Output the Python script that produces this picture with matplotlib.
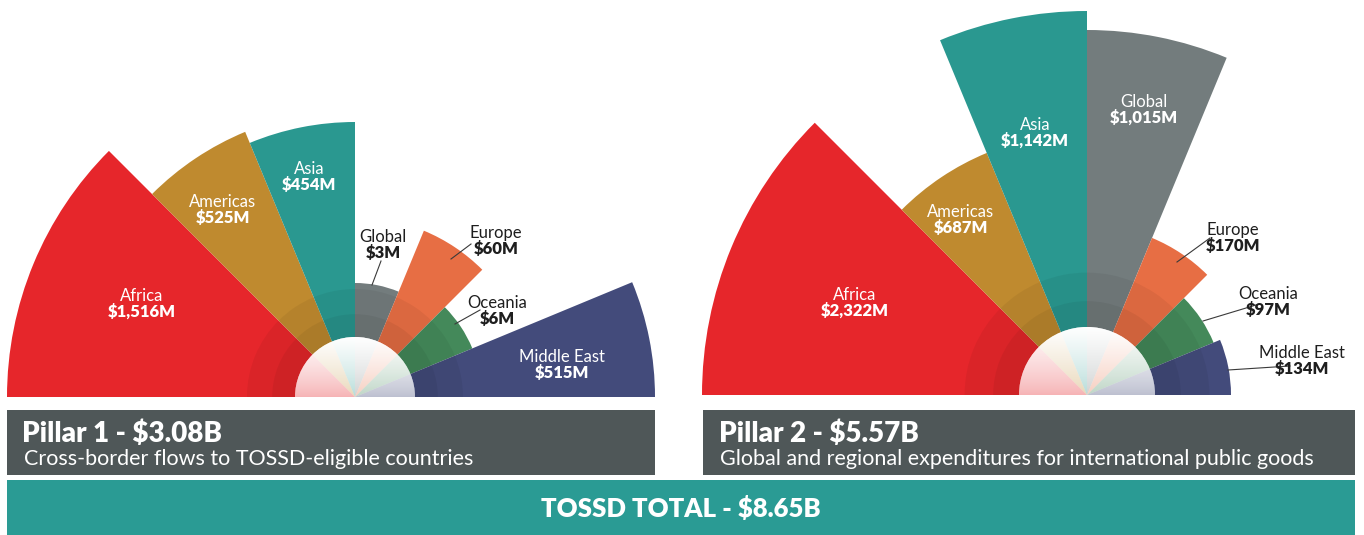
import numpy as np
import matplotlib
matplotlib.use('Agg')
import matplotlib.pyplot as plt
from matplotlib.patches import Wedge, Rectangle

plt.rcParams['font.family'] = ['Lato', 'DejaVu Sans']

# regions in drawing order (from the left, clockwise)
regions = ['Africa', 'Americas', 'Asia', 'Global', 'Europe', 'Oceania', 'Middle East']
colors = ['#E6262B', '#BF8A2F', '#2A9890', '#737C7D', '#E76E44', '#44895A', '#434B7B']
spans = [45, 22.5, 22.5, 22.5, 22.5, 22.5, 22.5]   # degrees per sector

# pillar 1 (cross-border flows)
p1_values = ['$1,516M', '$525M', '$454M', '$3M', '$60M', '$6M', '$515M']
p1_radius = [348, 287, 275, 114, 180, 127, 300]   # sector length
# pillar 2 (global / regional expenditures)
p2_values = ['$2,322M', '$687M', '$1,142M', '$1,015M', '$170M', '$97M', '$134M']
p2_radius = [385, 262, 384, 365, 170, 137, 144]

W, H = 1364, 535
fig = plt.figure(figsize=(W / 100, H / 100), dpi=100)
ax = fig.add_axes([0, 0, 1, 1])
ax.set_xlim(0, W)
ax.set_ylim(0, H)
ax.set_aspect('equal')
ax.axis('off')


def fan(cx, cy, hole, radius, values, labels):
    theta2 = 180.0
    for i, r in enumerate(radius):
        theta1 = theta2 - spans[i]
        ax.add_patch(Wedge((cx, cy), r, theta1, theta2, facecolor=colors[i],
                           edgecolor='none', zorder=2))
        # darker rings near the hub
        for k in (1.8, 1.38):
            ax.add_patch(Wedge((cx, cy), min(r, hole * k), theta1, theta2,
                               facecolor='black', alpha=0.05, edgecolor='none', zorder=3))
        theta2 = theta1
    # pastel hub
    ax.add_patch(Wedge((cx, cy), hole, 0, 180, facecolor='white', edgecolor='none', zorder=4))
    theta2 = 180.0
    for i in range(len(radius)):
        theta1 = theta2 - spans[i]
        ax.add_patch(Wedge((cx, cy), hole, theta1, theta2, facecolor=colors[i],
                           alpha=0.35, edgecolor='none', zorder=5))
        theta2 = theta1
    grad = np.ones((100, 2, 4))
    grad[:, :, 3] = np.linspace(1.0, 0.0, 100)[:, None] ** 0.8
    im = ax.imshow(grad, extent=[cx - hole, cx + hole, cy, cy + hole], origin='upper',
                   zorder=6, aspect='auto', interpolation='bilinear')
    clip = Wedge((cx, cy), hole, 0, 180, transform=ax.transData)
    im.set_clip_path(clip)

    for (name, val, x, y, c, line) in labels:
        ax.text(x, y, name, color=c, ha='center', va='center', fontsize=12,
                zorder=8)
        ax.text(x, y - 16, val, color=c, ha='center', va='center', fontsize=12,
                fontweight='heavy', zorder=8)
        if line is not None:
            ax.plot(line[0], line[1], color='#3A3A3A', lw=0.8, zorder=7)


wt, dk = 'white', '#1E1E1E'
fan(355, 138, 60, p1_radius, p1_values, [
    (regions[0], p1_values[0], 142, 239, wt, None),
    (regions[1], p1_values[1], 223, 333, wt, None),
    (regions[2], p1_values[2], 309, 366, wt, None),
    (regions[3], p1_values[3], 383, 298, dk, ([372, 381], [250, 274])),
    (regions[4], p1_values[4], 496, 302, dk, ([451, 471], [276, 291])),
    (regions[5], p1_values[5], 497, 232, dk, ([455, 480], [211, 225])),
    (regions[6], p1_values[6], 562, 178, wt, None),
])
fan(1087, 140, 68, p2_radius, p2_values, [
    (regions[0], p2_values[0], 855, 240, wt, None),
    (regions[1], p2_values[1], 961, 323, wt, None),
    (regions[2], p2_values[2], 1035, 410, wt, None),
    (regions[3], p2_values[3], 1144, 433, wt, None),
    (regions[4], p2_values[4], 1233, 305, dk, ([1177, 1210], [273, 297])),
    (regions[5], p2_values[5], 1268, 241, dk, ([1203, 1256], [214, 230])),
    (regions[6], p2_values[6], 1302, 182, dk, ([1228, 1290], [165, 169])),
])

# pillar boxes
panel = '#4F5758'
ax.add_patch(Rectangle((7, 60), 648, 65, facecolor=panel, edgecolor='none'))
ax.add_patch(Rectangle((703, 60), 652, 65, facecolor=panel, edgecolor='none'))
ax.text(22, 101, 'Pillar 1 - $3.08B', color='white', fontsize=20, fontweight='heavy',
        va='center', ha='left')
ax.text(24, 76, 'Cross-border flows to TOSSD-eligible countries', color='white',
        fontsize=15.5, va='center', ha='left')
ax.text(719, 101, 'Pillar 2 - $5.57B', color='white', fontsize=20, fontweight='heavy',
        va='center', ha='left')
ax.text(720, 76, 'Global and regional expenditures for international public goods',
        color='white', fontsize=15.5, va='center', ha='left')

ax.add_patch(Rectangle((7, 0), 1348, 55, facecolor='#2A9B94', edgecolor='none'))
ax.text(681, 26, 'TOSSD TOTAL - $8.65B', color='white', fontsize=18.5, fontweight='heavy',
        va='center', ha='center')

fig.savefig('out.png', dpi=100)
